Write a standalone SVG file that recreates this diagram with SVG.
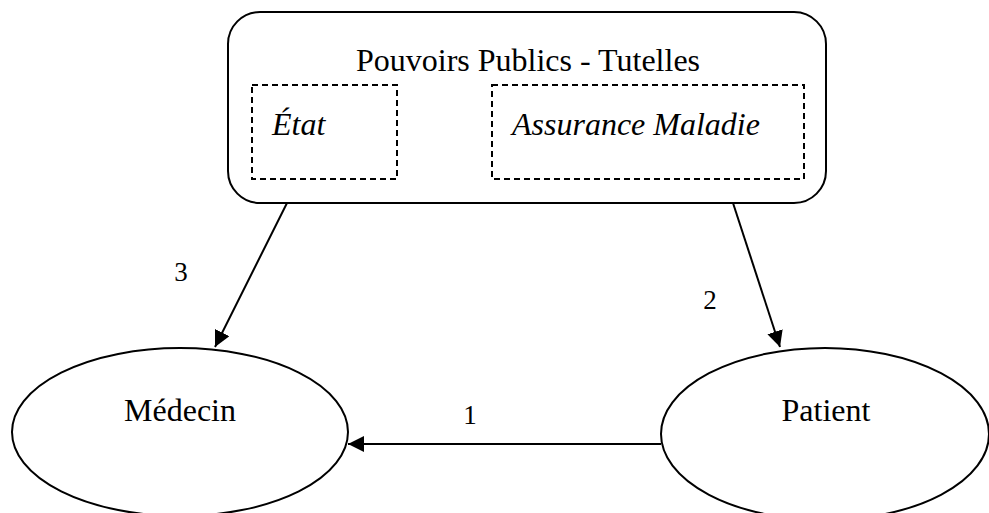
<svg xmlns="http://www.w3.org/2000/svg" width="989" height="513" viewBox="0 0 989 513">
<style>
.sh{fill:#fff;stroke:#000;stroke-width:2}
.dash{fill:none;stroke:#000;stroke-width:2;stroke-dasharray:6 4}
.t{font-family:"Liberation Serif","Times New Roman",serif;font-size:32px;fill:#000}
.it{font-style:italic}
.n{font-family:"Liberation Serif","Times New Roman",serif;font-size:27px;fill:#000;text-anchor:middle}
.c{stroke:#000;stroke-width:2;fill:none;marker-end:url(#ah)}
</style>
<defs>
<marker id="ah" viewBox="0 0 10 10" refX="10" refY="5" markerWidth="16" markerHeight="16" markerUnits="userSpaceOnUse" orient="auto">
<path d="M0,0 L10,5 L0,10 z" fill="#000"/>
</marker>
</defs>
<rect width="989" height="513" fill="#fff"/>
<g id="tutelles">
<rect class="sh" x="228" y="12" width="598" height="191" rx="32" ry="32"/>
<text class="t" x="528" y="71" text-anchor="middle">Pouvoirs Publics - Tutelles</text>
</g>
<g id="etat">
<rect class="dash" x="252" y="85" width="145" height="94"/>
<text class="t it" x="272" y="135">État</text>
</g>
<g id="assurance">
<rect class="dash" x="492" y="85" width="312" height="94"/>
<text class="t it" x="512" y="135">Assurance Maladie</text>
</g>
<g id="medecin">
<ellipse class="sh" cx="180" cy="432" rx="168" ry="84"/>
<text class="t" x="180" y="421" text-anchor="middle">Médecin</text>
</g>
<g id="patient">
<ellipse class="sh" cx="825" cy="434" rx="164" ry="86"/>
<text class="t" x="826" y="421" text-anchor="middle">Patient</text>
</g>
<g id="connectors">
<line class="c" x1="287" y1="203" x2="215" y2="347"/>
<line class="c" x1="733" y1="203" x2="780" y2="347"/>
<line class="c" x1="661" y1="444" x2="348" y2="444"/>
<text class="n" x="181" y="281">3</text>
<text class="n" x="710" y="309">2</text>
<text class="n" x="470" y="424">1</text>
</g>
</svg>
